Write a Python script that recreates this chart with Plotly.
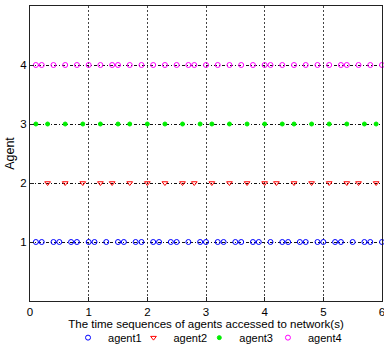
import plotly.graph_objects as go

# Access times (s) for each agent
agent1_t = [0.1, 0.2, 0.4, 0.5, 0.7, 0.8, 1.0, 1.1, 1.3, 1.5, 1.6, 1.8, 1.9, 2.1, 2.2,
            2.4, 2.5, 2.7, 2.9, 3.0, 3.2, 3.3, 3.5, 3.6, 3.8, 3.9, 4.1, 4.3, 4.4, 4.6,
            4.7, 4.9, 5.0, 5.2, 5.3, 5.5, 5.7, 5.8, 6.0]
agent2_t = [0.3, 0.6, 0.9, 1.2, 1.4, 1.7, 2.0, 2.3, 2.6, 2.8, 3.1, 3.4, 3.7, 4.0, 4.2,
            4.5, 4.8, 5.1, 5.4, 5.6, 5.9]
agent3_t = [0.1, 0.3, 0.6, 0.9, 1.2, 1.5, 1.7, 2.0, 2.3, 2.6, 2.9, 3.1, 3.4, 3.7, 4.0,
            4.3, 4.5, 4.8, 5.1, 5.4, 5.7, 5.9]
agent4_t = [0.1, 0.2, 0.4, 0.6, 0.8, 1.0, 1.2, 1.4, 1.5, 1.7, 1.9, 2.1, 2.3, 2.5, 2.7,
            2.8, 3.0, 3.2, 3.4, 3.6, 3.8, 4.0, 4.1, 4.3, 4.5, 4.7, 4.9, 5.1, 5.3, 5.4,
            5.6, 5.8, 6.0]

agent_names = ["agent1", "agent2", "agent3", "agent4"]
agent_ids = [1, 2, 3, 4]
x_ticks = [0, 1, 2, 3, 4, 5, 6]
y_ticks = [1, 2, 3, 4]

series = [agent1_t, agent2_t, agent3_t, agent4_t]
styles = [
    dict(symbol="circle-open", color="#0000ff", size=5),
    dict(symbol="triangle-down-open", color="#ff0000", size=5),
    dict(symbol="circle", color="#00ee00", size=4),
    dict(symbol="circle-open", color="#ff00ff", size=5),
]
legend_ids = ["legend", "legend2", "legend3", "legend4"]
legend_x = [0.108, 0.294, 0.481, 0.676]

font = "Liberation Sans, Arial, Helvetica, sans-serif"

fig = go.Figure()
for name, aid, ts, st, lg in zip(agent_names, agent_ids, series, styles, legend_ids):
    fig.add_trace(go.Scatter(
        x=ts, y=[aid] * len(ts), mode="markers", name=name, legend=lg,
        marker=dict(symbol=st["symbol"], color=st["color"], size=st["size"],
                    line=dict(color=st["color"], width=1)),
        cliponaxis=False,
    ))

legend_common = dict(orientation="h", xanchor="left", y=-0.075, yanchor="top",
                     font=dict(size=11), itemwidth=30, bgcolor="rgba(0,0,0,0)")
layout_legends = {lg: dict(x=lx, **legend_common) for lg, lx in zip(legend_ids, legend_x)}

fig.update_layout(
    width=384, height=350,
    margin=dict(l=30, r=2, t=6, b=49, autoexpand=False),
    paper_bgcolor="white", plot_bgcolor="white",
    font=dict(family=font, size=11, color="black"),
    showlegend=True,
    xaxis=dict(range=[0, 6], tickvals=x_ticks, ticktext=[str(v) for v in x_ticks],
               tickfont=dict(size=11.5),
               showgrid=True, gridcolor="#444444", griddash="2px,2px", gridwidth=1,
               zeroline=False, showline=True, linecolor="#222222", linewidth=1,
               mirror=True, ticks="inside", ticklen=4, tickcolor="#222222",
               ticklabeloverflow="allow", automargin=False,
               title=dict(text="The time sequences of agents accessed to network(s)",
                          standoff=0, font=dict(size=11.5))),
    yaxis=dict(range=[0, 5], tickvals=y_ticks, ticktext=[str(v) for v in y_ticks],
               tickfont=dict(size=11.5),
               showgrid=True, gridcolor="#111111", griddash="3px,2px,1px,2px", gridwidth=1,
               zeroline=False, showline=True, linecolor="#222222", linewidth=1,
               mirror=True, ticks="inside", ticklen=4, tickcolor="#222222",
               automargin=False,
               title=dict(text="Agent", standoff=2, font=dict(size=12.5))),
    **layout_legends,
)

fig.write_html("out.html")
